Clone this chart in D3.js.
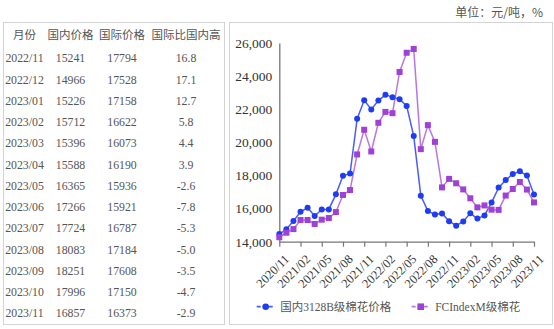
<!DOCTYPE html>
<html>
<head>
<meta charset="utf-8">
<script src="https://cdn.jsdelivr.net/npm/d3@7"></script>
<style>
  html, body { margin: 0; padding: 0; background: #fff; }
  svg { display: block; }
</style>
</head>
<body>
<svg id="chart" width="554" height="329"></svg>
<script>
// Monthly cotton prices, 2020/11 – 2023/11 (元/吨)
const months = [
  "2020/11","2020/12","2021/01","2021/02","2021/03","2021/04","2021/05","2021/06","2021/07","2021/08",
  "2021/09","2021/10","2021/11","2021/12","2022/01","2022/02","2022/03","2022/04","2022/05","2022/06",
  "2022/07","2022/08","2022/09","2022/10","2022/11","2022/12","2023/01","2023/02","2023/03","2023/04",
  "2023/05","2023/06","2023/07","2023/08","2023/09","2023/10","2023/11"
];
const domestic = [
  14460, 14750, 15250, 15810, 16050, 15550, 15950, 15950, 16860, 17980,
  18120, 21420, 22540, 21990, 22520, 22870, 22730, 22610, 22200, 20380,
  16780, 15850, 15650, 15710, 15241, 14966, 15226, 15712, 15396, 15588,
  16365, 17266, 17724, 18083, 18251, 17996, 16857
];
const international = [
  14270, 14540, 14760, 15310, 15310, 15070, 15330, 15430, 15790, 16820,
  17120, 19270, 20760, 19450, 21180, 21840, 21760, 24250, 25410, 25640,
  19590, 21040, 20030, 17280, 17794, 17528, 17158, 16622, 16073, 16190,
  15936, 15921, 16787, 17184, 17608, 17150, 16373
];
// International premium over domestic price, % (last 13 months)
const premium = ["16.8","17.1","12.7","5.8","4.4","3.9","-2.6","-7.8","-5.3","-5.0","-3.5","-4.7","-2.9"];

const tableHeaders = ["月份", "国内价格", "国际价格", "国际比国内高"];
const yTicks = [14000, 16000, 18000, 20000, 22000, 24000, 26000];
const xTickLabels = months.filter((m, i) => i % 3 === 0);
const seriesNames = ["国内3128B级棉花价格", "FCIndexM级棉花"];
const unitLabel = "单位：元/吨，%";

const svg = d3.select("#chart");
const cjk = "'Noto Sans CJK SC', 'Noto Sans', sans-serif";
const serif = "'Liberation Serif', 'Noto Sans CJK SC', serif";
const textGray = "#555";

// ---------- Table panel ----------
svg.append("rect")
  .attr("x", 3.5).attr("y", 22.5).attr("width", 221).attr("height", 302)
  .attr("fill", "#fff").attr("stroke", "#d4d4d4");

const colX = [24.5, 70.5, 122, 186];
const headerY = 35;
const rowY0 = 58.3, rowStep = 21.25;

svg.append("g").selectAll("text")
  .data(tableHeaders)
  .join("text")
  .attr("x", (d, i) => colX[i])
  .attr("y", headerY)
  .attr("dy", "0.36em")
  .attr("text-anchor", "middle")
  .attr("font-family", cjk)
  .attr("font-size", 11.5)
  .attr("fill", textGray)
  .text(d => d);

const tableRows = months.slice(24).map((m, i) => [
  m, String(domestic[24 + i]), String(international[24 + i]), premium[i]
]);

const rowG = svg.append("g").selectAll("g")
  .data(tableRows)
  .join("g")
  .attr("transform", (d, i) => `translate(0,${rowY0 + i * rowStep})`);

rowG.selectAll("text")
  .data(d => d)
  .join("text")
  .attr("x", (d, i) => colX[i])
  .attr("dy", "0.34em")
  .attr("text-anchor", "middle")
  .attr("font-family", serif)
  .attr("font-size", 11.8)
  .attr("fill", textGray)
  .text(d => d);

// ---------- Chart panel ----------
svg.append("rect")
  .attr("x", 229.5).attr("y", 22.5).attr("width", 323).attr("height", 302)
  .attr("fill", "#fff").attr("stroke", "#d4d4d4");

svg.append("text")
  .attr("x", 543).attr("y", 13)
  .attr("dy", "0.35em")
  .attr("text-anchor", "end")
  .attr("font-family", cjk)
  .attr("font-size", 12)
  .attr("fill", textGray)
  .text(unitLabel);

const x = d3.scalePoint().domain(months).range([279.3, 534]);
const y = d3.scaleLinear().domain([14000, 26000]).range([241.7, 43]);

// y axis: plain line with labels
const yAxis = svg.append("g")
  .attr("transform", `translate(${x(months[0])},0)`)
  .call(d3.axisLeft(y).tickValues(yTicks).tickSize(0).tickPadding(7)
    .tickFormat(d3.format(",")));
yAxis.select(".domain").attr("stroke", "#777").attr("stroke-width", 1.3);
yAxis.selectAll("text")
  .attr("font-family", serif)
  .attr("font-size", 13.5)
  .attr("fill", "#333");

// x axis with rotated month labels
const xAxis = svg.append("g")
  .attr("transform", `translate(0,${y(14000)})`)
  .call(d3.axisBottom(x).tickValues(xTickLabels).tickSize(5).tickSizeOuter(0));
xAxis.select(".domain").attr("stroke", "#777").attr("stroke-width", 1.3);
xAxis.selectAll(".tick line").attr("stroke", "#777").attr("stroke-width", 1.2);
xAxis.selectAll("text")
  .attr("font-family", serif)
  .attr("font-size", 12.5)
  .attr("fill", "#333")
  .attr("text-anchor", "end")
  .attr("y", 0).attr("dy", "0.35em")
  .attr("transform", "translate(7,15) rotate(-45)");

const blue = "#1f3cf5";
const purpleLine = "#b777e2";
const purpleMark = "#a041d6";

const line = d3.line().x((d, i) => x(months[i])).y(d => y(d));

svg.append("path")
  .datum(domestic)
  .attr("d", line)
  .attr("fill", "none")
  .attr("stroke", "#4a5cf7")
  .attr("stroke-width", 1.5);

svg.append("path")
  .datum(international)
  .attr("d", line)
  .attr("fill", "none")
  .attr("stroke", purpleLine)
  .attr("stroke-width", 1.5);

svg.append("g").selectAll("circle")
  .data(domestic)
  .join("circle")
  .attr("cx", (d, i) => x(months[i]))
  .attr("cy", d => y(d))
  .attr("r", 3)
  .attr("fill", blue);

const sq = 6;
svg.append("g").selectAll("rect")
  .data(international)
  .join("rect")
  .attr("x", (d, i) => x(months[i]) - sq / 2)
  .attr("y", d => y(d) - sq / 2)
  .attr("width", sq).attr("height", sq)
  .attr("fill", purpleMark);

// ---------- Legend ----------
const legendY = 306.7;
const legendItems = [
  { name: seriesNames[0], x0: 256.7, color: "#4a5cf7", mark: blue, shape: "circle" },
  { name: seriesNames[1], x0: 411.7, color: purpleLine, mark: purpleMark, shape: "square" }
];
const lg = svg.append("g").selectAll("g")
  .data(legendItems)
  .join("g")
  .attr("transform", d => `translate(${d.x0},${legendY})`);
lg.append("line")
  .attr("x1", 0).attr("x2", 18)
  .attr("stroke", d => d.color).attr("stroke-width", 1.8)
  .attr("stroke-dasharray", "4,2");
lg.filter(d => d.shape === "circle").append("circle")
  .attr("cx", 9).attr("r", 3.3).attr("fill", d => d.mark);
lg.filter(d => d.shape === "square").append("rect")
  .attr("x", 9 - 3.3).attr("y", -3.3).attr("width", 6.6).attr("height", 6.6)
  .attr("fill", d => d.mark);
lg.append("text")
  .attr("x", 23.5)
  .attr("dy", "0.35em")
  .attr("font-family", serif)
  .attr("font-size", 11.5)
  .attr("fill", textGray)
  .text(d => d.name);
</script>
</body>
</html>
